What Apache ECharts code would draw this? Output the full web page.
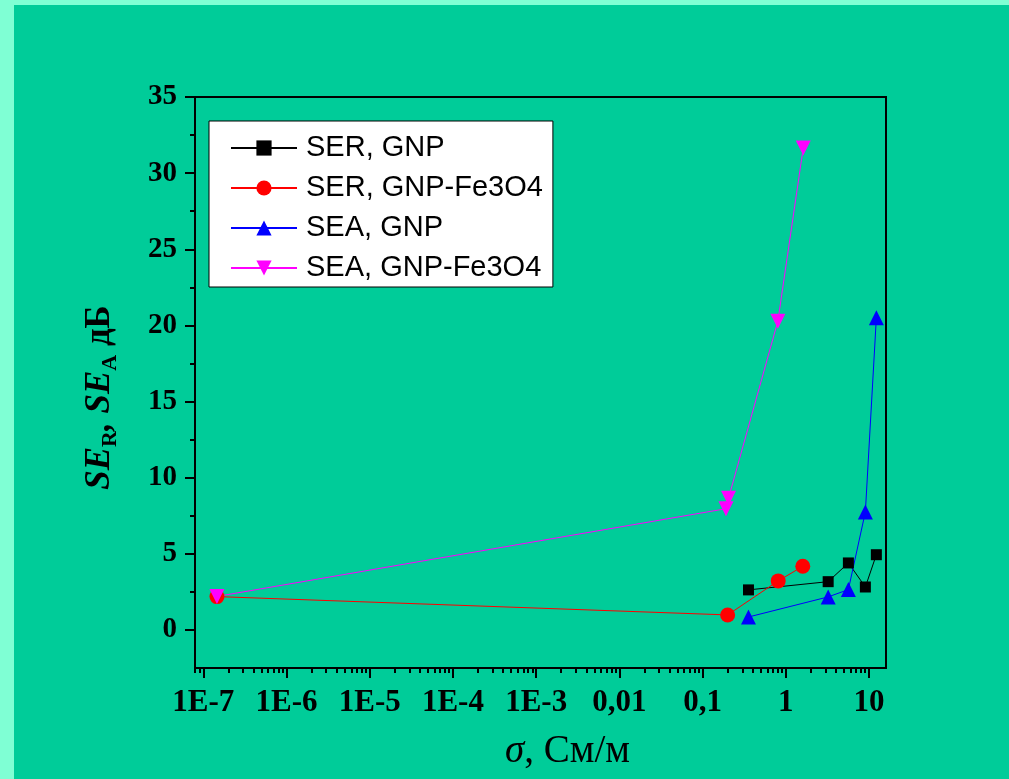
<!DOCTYPE html>
<html><head><meta charset="utf-8">
<script src="https://cdn.jsdelivr.net/npm/echarts@6/dist/echarts.min.js"></script>
<style>
html,body{margin:0;padding:0;background:#7FFFD4;width:1009px;height:779px;overflow:hidden}
#c{position:absolute;left:14px;top:5px;width:995px;height:774px}
</style></head><body><div id="c"></div>
<script>
// ---- data ----
const gnpSigma   = [0.356, 3.23, 5.65, 9.04, 12.25];
const serGnp     = [2.63, 3.17, 4.40, 2.82, 4.94];
const seaGnp     = [0.85, 2.17, 2.65, 7.75, 20.5];
const serFeSigma = [1.46e-7, 0.200, 0.811, 1.60];
const serFe      = [2.19, 0.985, 3.22, 4.18];
const seaFeSigma = [1.46e-7, 0.191, 0.205, 0.803, 1.62];
const seaFe      = [2.2, 7.96, 8.65, 20.28, 31.65];
const seriesNames = ['SER, GNP', 'SER, GNP-Fe3O4', 'SEA, GNP', 'SEA, GNP-Fe3O4'];
const xTickValues = [1e-7, 1e-6, 1e-5, 1e-4, 1e-3, 0.01, 0.1, 1, 10];
const xTickLabels = ['1E-7', '1E-6', '1E-5', '1E-4', '1E-3', '0,01', '0,1', '1', '10'];
const yTickValues = [0, 5, 10, 15, 20, 25, 30, 35];
const yMinorValues = [2.5, 7.5, 12.5, 17.5, 22.5, 27.5, 32.5];
const xMinorMultipliers = [2, 3, 4, 5, 6, 7, 8, 9];
const xMin = 7.95e-8, xMax = 16.0, yMin = -2.5, yMax = 35;

const xMinorValues = [8e-8, 9e-8];
for (let e = -7; e <= 0; e++) {
  xMinorMultipliers.forEach(m => xMinorValues.push(+(m * Math.pow(10, e)).toPrecision(3)));
}
const pairs = (xs, ys) => xs.map((x, i) => [x, ys[i]]);

const serif = 'Liberation Serif';
const chart = echarts.init(document.getElementById('c'));
chart.setOption({
  backgroundColor: '#00CC99',
  animation: false,
  grid: { left: 181, top: 92, width: 691, height: 571, show: true, borderColor: '#000', borderWidth: 2, backgroundColor: 'transparent' },
  legend: {
    orient: 'vertical', left: 195, top: 116,
    backgroundColor: '#fff', borderColor: '#000', borderWidth: 1, borderRadius: 0,
    padding: [10, 10, 2, 21], itemWidth: 66, itemHeight: 19, itemGap: 6,
    textStyle: { fontFamily: 'Liberation Sans', fontSize: 29, color: '#000', lineHeight: 34, padding: [0, 0, 0, 4] },
    data: seriesNames
  },
  xAxis: [{
    type: 'log', logBase: 10, min: xMin, max: xMax, position: 'bottom',
    axisLine: { onZero: false, lineStyle: { color: '#000', width: 2 } },
    axisTick: { customValues: xTickValues, length: 10, lineStyle: { color: '#000', width: 2 } },
    axisLabel: {
      customValues: xTickValues, margin: 19, color: '#000', fontFamily: serif, fontWeight: 'bold', fontSize: 31,
      formatter: v => xTickLabels[Math.round(Math.log10(v)) + 7]
    },
    splitLine: { show: false },
    name: '{i|σ}, См/м', nameLocation: 'middle', nameGap: 64,
    nameTextStyle: { fontFamily: serif, fontSize: 39, color: '#000', padding: [0, 0, 0, 54],
      rich: { i: { fontFamily: serif, fontSize: 39, fontStyle: 'italic', color: '#000' } } }
  }, {
    type: 'log', logBase: 10, min: xMin, max: xMax, position: 'bottom', offset: 0,
    axisLine: { show: false, onZero: false },
    axisTick: { customValues: xMinorValues, length: 5, lineStyle: { color: '#000', width: 2 } },
    axisLabel: { show: false }, splitLine: { show: false }
  }],
  yAxis: [{
    type: 'value', min: yMin, max: yMax, position: 'left',
    axisLine: { show: true, onZero: false, lineStyle: { color: '#000', width: 2 } },
    axisTick: { show: true, customValues: yTickValues, length: 10, lineStyle: { color: '#000', width: 2 } },
    axisLabel: { customValues: yTickValues, margin: 18, color: '#000', fontFamily: serif, fontWeight: 'bold', fontSize: 29 },
    splitLine: { show: false },
    name: '{b|SE}{s|R}{b|, SE}{s|A}{u| дБ}', nameLocation: 'middle', nameGap: 74,
    nameTextStyle: { color: '#000', padding: [0, 30, 0, 0],
      rich: {
        b: { fontFamily: serif, fontSize: 35, fontWeight: 'bold', fontStyle: 'italic', color: '#000', lineHeight: 42 },
        s: { fontFamily: serif, fontSize: 22, fontWeight: 'bold', color: '#000', lineHeight: 24, verticalAlign: 'bottom' },
        u: { fontFamily: serif, fontSize: 35, fontWeight: 'bold', color: '#000', lineHeight: 42 }
      } }
  }, {
    type: 'value', min: yMin, max: yMax, position: 'left', offset: 0,
    axisLine: { show: false, onZero: false },
    axisTick: { show: true, customValues: yMinorValues, length: 5, lineStyle: { color: '#000', width: 2 } },
    axisLabel: { show: false }, splitLine: { show: false }
  }],
  series: [
    { name: seriesNames[0], type: 'line', data: pairs(gnpSigma, serGnp), symbol: 'rect', symbolSize: 11,
      itemStyle: { color: '#000' }, lineStyle: { color: '#000', width: 1 } },
    { name: seriesNames[1], type: 'line', data: pairs(serFeSigma, serFe), symbol: 'circle', symbolSize: 15,
      itemStyle: { color: '#FF0000' }, lineStyle: { color: '#FF0000', width: 1 } },
    { name: seriesNames[2], type: 'line', data: pairs(gnpSigma, seaGnp), symbol: 'triangle', symbolSize: 15,
      itemStyle: { color: '#0000FF' }, lineStyle: { color: '#0000FF', width: 1 } },
    { name: seriesNames[3], type: 'line', data: pairs(seaFeSigma, seaFe), symbol: 'triangle', symbolRotate: 180, symbolSize: 15,
      itemStyle: { color: '#FF00FF' }, lineStyle: { color: '#FF00FF', width: 1 } }
  ]
});
</script></body></html>
